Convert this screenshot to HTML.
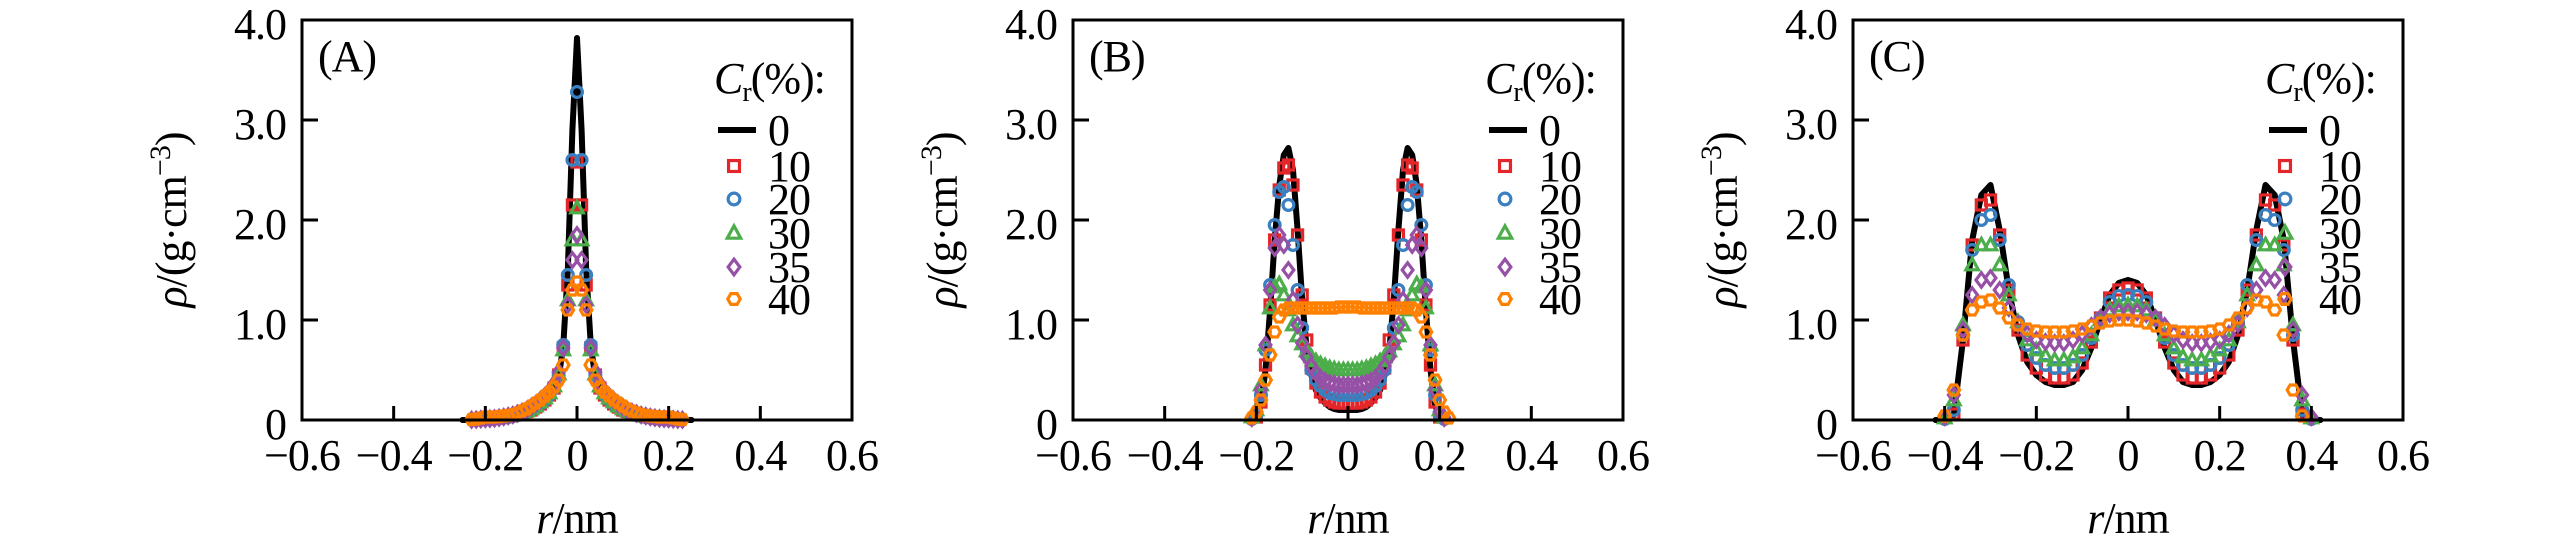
<!DOCTYPE html>
<html><head><meta charset="utf-8"><style>
html,body{margin:0;padding:0;background:#fff}
svg{display:block;font-family:"Liberation Serif",serif}
svg text{font-stretch:condensed;letter-spacing:-1px}
</style></head><body>
<svg id="fig" width="2567" height="549" viewBox="0 0 2567 549" xmlns="http://www.w3.org/2000/svg"></svg>
<script>
// Panel A data (r in nm, density in g/cm^3)
const rA = [-0.25,-0.24,-0.23,-0.22,-0.21,-0.2,-0.19,-0.18,-0.17,-0.16,-0.15,-0.14,-0.13,-0.12,-0.11,-0.1,-0.09,-0.08,-0.07,-0.06,-0.05,-0.04,-0.03,-0.02,-0.01,0,0.01,0.02,0.03,0.04,0.05,0.06,0.07,0.08,0.09,0.1,0.11,0.12,0.13,0.14,0.15,0.16,0.17,0.18,0.19,0.2,0.21,0.22,0.23,0.24,0.25];
const a0 = [0,0,0,0,0.005,0.008,0.01,0.015,0.02,0.025,0.03,0.04,0.05,0.06,0.07,0.09,0.11,0.14,0.18,0.23,0.3,0.42,0.75,1.5,2.9,3.82,2.9,1.5,0.75,0.42,0.3,0.23,0.18,0.14,0.11,0.09,0.07,0.06,0.05,0.04,0.03,0.025,0.02,0.015,0.01,0.008,0.005,0,0,0,0];
const a10 = [0,0,0,0,0.005,0.008,0.01,0.015,0.02,0.028,0.035,0.045,0.055,0.07,0.085,0.1,0.13,0.16,0.2,0.25,0.32,0.45,0.72,1.35,2.15,2.58,2.15,1.35,0.72,0.45,0.32,0.25,0.2,0.16,0.13,0.1,0.085,0.07,0.055,0.045,0.035,0.028,0.02,0.015,0.01,0.008,0.005,0,0,0,0];
const a20 = [0,0,0,0,0.005,0.008,0.01,0.015,0.02,0.025,0.03,0.04,0.05,0.065,0.08,0.1,0.13,0.16,0.2,0.25,0.32,0.45,0.75,1.45,2.6,3.28,2.6,1.45,0.75,0.45,0.32,0.25,0.2,0.16,0.13,0.1,0.08,0.065,0.05,0.04,0.03,0.025,0.02,0.015,0.01,0.008,0.005,0,0,0,0];
const a30 = [0,0,0,0.003,0.005,0.008,0.012,0.016,0.022,0.03,0.038,0.048,0.06,0.075,0.09,0.11,0.14,0.18,0.22,0.27,0.34,0.46,0.7,1.2,1.8,2.12,1.8,1.2,0.7,0.46,0.34,0.27,0.22,0.18,0.14,0.11,0.09,0.075,0.06,0.048,0.038,0.03,0.022,0.016,0.012,0.008,0.005,0.003,0,0,0];
const a35 = [0,0,0.002,0.004,0.007,0.01,0.012,0.016,0.022,0.03,0.04,0.05,0.065,0.08,0.1,0.13,0.16,0.2,0.24,0.29,0.36,0.48,0.72,1.15,1.6,1.85,1.6,1.15,0.72,0.48,0.36,0.29,0.24,0.2,0.16,0.13,0.1,0.08,0.065,0.05,0.04,0.03,0.022,0.016,0.012,0.01,0.007,0.004,0.002,0,0];
const a40 = [0,0,0.005,0.01,0.02,0.03,0.03,0.03,0.035,0.04,0.045,0.055,0.07,0.09,0.11,0.14,0.17,0.2,0.24,0.28,0.33,0.4,0.55,1.1,1.3,1.38,1.3,1.1,0.55,0.4,0.33,0.28,0.24,0.2,0.17,0.14,0.11,0.09,0.07,0.055,0.045,0.04,0.035,0.03,0.03,0.03,0.02,0.01,0.005,0,0];

// Panel B data
const rB = [-0.22,-0.21,-0.2,-0.19,-0.18,-0.17,-0.16,-0.15,-0.14,-0.13,-0.12,-0.11,-0.1,-0.09,-0.08,-0.07,-0.06,-0.05,-0.04,-0.03,-0.02,-0.01,0,0.01,0.02,0.03,0.04,0.05,0.06,0.07,0.08,0.09,0.1,0.11,0.12,0.13,0.14,0.15,0.16,0.17,0.18,0.19,0.2,0.21,0.22];
const b0 = [0,0,0.02,0.15,0.5,1.1,1.8,2.35,2.65,2.72,2.5,1.9,1.2,0.7,0.45,0.3,0.22,0.17,0.13,0.11,0.1,0.1,0.1,0.1,0.1,0.11,0.13,0.17,0.22,0.3,0.45,0.7,1.2,1.9,2.5,2.72,2.65,2.35,1.8,1.1,0.5,0.15,0.02,0,0];
const b10 = [0,0,0.03,0.18,0.55,1.15,1.8,2.3,2.52,2.55,2.35,1.85,1.25,0.8,0.52,0.37,0.28,0.23,0.2,0.18,0.17,0.17,0.17,0.17,0.17,0.18,0.2,0.23,0.28,0.37,0.52,0.8,1.25,1.85,2.35,2.55,2.52,2.3,1.8,1.15,0.55,0.18,0.03,0,0];
const b20 = [0,0.01,0.05,0.25,0.7,1.35,1.95,2.28,2.33,2.15,1.75,1.3,0.92,0.67,0.5,0.4,0.34,0.3,0.27,0.26,0.25,0.25,0.25,0.25,0.25,0.26,0.27,0.3,0.34,0.4,0.5,0.67,0.92,1.3,1.75,2.15,2.33,2.28,1.95,1.35,0.7,0.25,0.05,0.01,0];
const b30 = [0,0.03,0.1,0.35,0.75,1.12,1.33,1.36,1.25,1.1,0.95,0.84,0.76,0.69,0.63,0.59,0.56,0.54,0.52,0.51,0.5,0.5,0.5,0.5,0.5,0.51,0.52,0.54,0.56,0.59,0.63,0.69,0.76,0.84,0.95,1.1,1.25,1.36,1.33,1.12,0.75,0.35,0.1,0.03,0];
const b35 = [0,0.02,0.08,0.3,0.75,1.3,1.72,1.85,1.75,1.5,1.2,0.95,0.77,0.63,0.54,0.47,0.42,0.39,0.37,0.36,0.35,0.35,0.35,0.35,0.35,0.36,0.37,0.39,0.42,0.47,0.54,0.63,0.77,0.95,1.2,1.5,1.75,1.85,1.72,1.3,0.75,0.3,0.08,0.02,0];
const b40 = [0,0.02,0.08,0.2,0.4,0.65,0.88,1.03,1.1,1.12,1.12,1.12,1.12,1.12,1.12,1.12,1.12,1.12,1.12,1.12,1.13,1.13,1.13,1.13,1.13,1.12,1.12,1.12,1.12,1.12,1.12,1.12,1.12,1.12,1.12,1.12,1.12,1.1,1.03,0.88,0.65,0.4,0.2,0.08,0.02,0];

// Panel C data
const rC = [-0.42,-0.4,-0.38,-0.36,-0.34,-0.32,-0.3,-0.28,-0.26,-0.24,-0.22,-0.2,-0.18,-0.16,-0.14,-0.12,-0.1,-0.08,-0.06,-0.04,-0.02,0,0.02,0.04,0.06,0.08,0.1,0.12,0.14,0.16,0.18,0.2,0.22,0.24,0.26,0.28,0.3,0.32,0.34,0.36,0.38,0.4,0.42];
const c0 = [0,0,0.05,0.8,1.8,2.25,2.35,1.9,1.3,0.85,0.58,0.45,0.38,0.35,0.35,0.38,0.5,0.72,1.0,1.25,1.37,1.4,1.37,1.25,1.0,0.72,0.5,0.38,0.35,0.35,0.38,0.45,0.58,0.85,1.3,1.9,2.35,2.25,1.8,0.8,0.05,0,0];
const c10 = [0,0,0.06,0.8,1.75,2.15,2.2,1.85,1.3,0.9,0.65,0.52,0.45,0.42,0.42,0.45,0.57,0.78,1.02,1.22,1.3,1.32,1.3,1.22,1.02,0.78,0.57,0.45,0.42,0.42,0.45,0.52,0.65,0.9,1.3,1.85,2.2,2.15,1.75,0.8,0.06,0,0];
const c20 = [0,0.01,0.1,0.85,1.7,2.0,2.05,1.8,1.35,0.98,0.75,0.62,0.55,0.52,0.52,0.55,0.65,0.82,1.02,1.18,1.24,1.25,1.24,1.18,1.02,0.82,0.65,0.55,0.52,0.52,0.55,0.62,0.75,0.98,1.35,1.8,2.05,2.0,1.7,0.85,0.1,0.01,0];
const c30 = [0,0.02,0.2,0.95,1.55,1.75,1.75,1.55,1.25,0.98,0.8,0.7,0.64,0.6,0.6,0.63,0.72,0.85,1.0,1.1,1.14,1.15,1.14,1.1,1.0,0.85,0.72,0.63,0.6,0.6,0.64,0.7,0.8,0.98,1.25,1.55,1.75,1.75,1.55,0.95,0.2,0.02,0];
const c35 = [0,0.03,0.25,0.9,1.25,1.4,1.42,1.3,1.12,0.96,0.86,0.8,0.78,0.77,0.77,0.8,0.86,0.94,1.02,1.06,1.08,1.08,1.08,1.06,1.02,0.94,0.86,0.8,0.77,0.77,0.78,0.8,0.86,0.96,1.12,1.3,1.42,1.4,1.25,0.9,0.25,0.03,0];
const c40 = [0,0.04,0.3,0.85,1.1,1.18,1.2,1.12,1.02,0.95,0.91,0.89,0.88,0.88,0.88,0.89,0.91,0.94,0.97,0.99,1.0,1.0,0.99,0.97,0.94,0.91,0.89,0.88,0.88,0.88,0.89,0.91,0.95,1.02,1.12,1.2,1.18,1.1,0.85,0.3,0.04,0];

const xTickVals = [-0.6,-0.4,-0.2,0,0.2,0.4,0.6];
const xTickLabels = ["\u22120.6","\u22120.4","\u22120.2","0","0.2","0.4","0.6"];
const yTickVals = [0,1,2,3,4];
const yTickLabels = ["0","1.0","2.0","3.0","4.0"];
const legendLabels = ["0","10","20","30","35","40"];
const panelLabels = ["(A)","(B)","(C)"];

const NS = "http://www.w3.org/2000/svg";
const svg = document.getElementById("fig");
const COLORS = ["#000000","#e3262a","#3a7fc0","#4cae4a","#9650a6","#ff8000"];
const MARKS = ["line","square","circle","triangle","diamond","hexagon"];

function mk(tag, attrs, parent){
  const e = document.createElementNS(NS, tag);
  for (const k in attrs) e.setAttribute(k, attrs[k]);
  (parent||svg).appendChild(e);
  return e;
}

function marker(shape, cx, cy, color, s, parent){
  let e;
  const sw = 3.2;
  if (shape === "square") {
    e = mk("rect", {x: cx - s*0.42, y: cy - s*0.42, width: s*0.84, height: s*0.84, fill: "none", stroke: color, "stroke-width": sw}, parent);
  } else if (shape === "circle") {
    e = mk("circle", {cx: cx, cy: cy, r: s*0.45, fill: "none", stroke: color, "stroke-width": sw}, parent);
  } else if (shape === "triangle") {
    e = mk("polygon", {points: `${cx},${cy - s*0.55} ${cx + s*0.52},${cy + s*0.4} ${cx - s*0.52},${cy + s*0.4}`, fill: "none", stroke: color, "stroke-width": sw}, parent);
  } else if (shape === "diamond") {
    e = mk("polygon", {points: `${cx},${cy - s*0.6} ${cx + s*0.45},${cy} ${cx},${cy + s*0.6} ${cx - s*0.45},${cy}`, fill: "none", stroke: color, "stroke-width": sw}, parent);
  } else {
    const r = s*0.48; let p = [];
    for (let i = 0; i < 6; i++) { const a = Math.PI/3*i; p.push((cx + r*Math.cos(a)).toFixed(1) + "," + (cy + r*Math.sin(a)).toFixed(1)); }
    e = mk("polygon", {points: p.join(" "), fill: "none", stroke: color, "stroke-width": sw}, parent);
  }
  return e;
}

function drawPanel(idx, left, rs, series){
  const W = 550, top = 20, bottom = 420;
  const right = left + W;
  const xs = v => left + (v + 0.6) / 1.2 * W;
  const ys = v => bottom - v / 4 * (bottom - top);
  const g = mk("g", {});
  
  

  const names = ["0","10","20","30","35","40"];
  series.forEach((vals, si) => {
    const sg = mk("g", {}, g);
    
    
    if (si === 0) {
      const d = vals.map((v, i) => (i ? "L" : "M") + xs(rs[i]).toFixed(1) + "," + ys(v).toFixed(1)).join(" ");
      const p = mk("path", {d: d, fill: "none", stroke: "#000", "stroke-width": 6, "stroke-linejoin": "round", "stroke-linecap": "round"}, sg);
      
      
    } else {
      vals.forEach((v, i) => {
        if (v === 0) return;
        const m = marker(MARKS[si], xs(rs[i]), ys(v), COLORS[si], 12, sg);
        
        
      });
    }
  });

  const fr = mk("rect", {x: left, y: top, width: W, height: bottom - top, fill: "none", stroke: "#000", "stroke-width": 3}, g);
  
  

  xTickVals.forEach((v, i) => {
    const x = xs(v);
    const t = mk("line", {x1: x, y1: bottom, x2: x, y2: bottom - 14, stroke: "#000", "stroke-width": 3}, g);
    
    
    const lb = mk("text", {x: x, y: bottom + 50, "text-anchor": "middle", "font-size": 44}, g);
    lb.textContent = xTickLabels[i];
    
    
  });
  yTickVals.forEach((v, i) => {
    const y = ys(v);
    const t = mk("line", {x1: left, y1: y, x2: left + 16, y2: y, stroke: "#000", "stroke-width": 3}, g);
    
    
    const lb = mk("text", {x: left - 16, y: y + 19, "text-anchor": "end", "font-size": 44}, g);
    lb.textContent = yTickLabels[i];
    
    
  });

  const xt = mk("text", {x: left + W/2, y: 533, "text-anchor": "middle", "font-size": 44}, g);
  xt.innerHTML = '<tspan font-style="italic">r</tspan>/nm';
  
  
  const yx = left - 116, yy = 220;
  const yt = mk("text", {x: yx, y: yy, "text-anchor": "middle", "font-size": 44, transform: `rotate(-90 ${yx} ${yy})`}, g);
  yt.innerHTML = '<tspan font-style="italic">\u03c1</tspan>/(g\u00b7cm<tspan dy="-16" font-size="30">\u22123</tspan><tspan dy="16">)</tspan>';
  
  

  const pl = mk("text", {x: left + 16, y: 71, "font-size": 44}, g);
  pl.textContent = panelLabels[idx];
  
  

  const lg = mk("g", {}, g);
  
  
  const lt = mk("text", {x: right - 138, y: 93, "font-size": 44}, lg);
  lt.innerHTML = '<tspan font-style="italic">C</tspan><tspan font-size="28" dy="8">r</tspan><tspan dy="-8">(%):</tspan>';
  
  
  const ly = [130, 166, 199, 233, 267, 299];
  legendLabels.forEach((lab, i) => {
    const eg = mk("g", {}, lg);
    
    
    if (i === 0) {
      mk("line", {x1: right - 134, y1: ly[i], x2: right - 96, y2: ly[i], stroke: "#000", "stroke-width": 6}, eg);
    } else {
      marker(MARKS[i], right - 118, ly[i], COLORS[i], 13, eg);
    }
    const tx = mk("text", {x: right - 84, y: ly[i] + 15, "font-size": 44}, eg);
    tx.textContent = lab;
  });
}

drawPanel(0, 302, rA, [a0, a10, a20, a30, a35, a40]);
drawPanel(1, 1073, rB, [b0, b10, b20, b30, b35, b40]);
drawPanel(2, 1853, rC, [c0, c10, c20, c30, c35, c40]);
</script>
</body></html>
